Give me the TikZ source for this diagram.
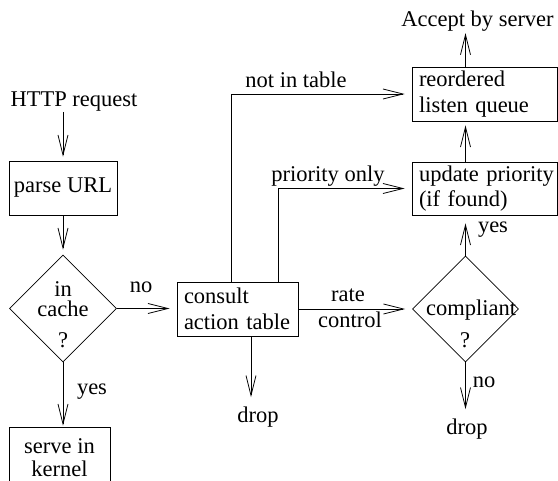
\documentclass[tikz,border=0pt]{standalone}
\usepackage{fontspec}
\setmainfont{Liberation Serif}
\usetikzlibrary{arrows.meta,shapes.geometric,calc}
\newcommand{\fnt}{\fontsize{22.5}{25.5}\selectfont}
\begin{document}
\begin{tikzpicture}[x=1pt,y=-1pt,
  every node/.style={font=\fnt, inner sep=0pt},
  box/.style={draw, rectangle, line width=0.8pt, align=left, inner xsep=7pt, inner ysep=0pt},
  cbox/.style={draw, rectangle, line width=0.8pt, align=center, inner sep=0pt},
  arr/.style={-{Straight Barb[length=20pt,width=10pt,line width=0.8pt]}, line width=0.8pt, shorten >=5pt},
  dia/.style={draw, diamond, line width=0.8pt, inner sep=0pt, aspect=1},
  lbl/.style={anchor=base}]
\clip (0,0) rectangle (558,481);
% boxes
\node[cbox, minimum width=108pt, minimum height=54pt] (parse) at (63,188) {parse URL};
\node[box, text width=107pt, minimum width=121pt, minimum height=54pt] (consult) at (237.5,309) {consult\\action table};
\node[box, text width=131pt, minimum width=145pt, minimum height=53pt] (update) at (484.5,188.5) {\mbox{update priority}\\(if found)};
\node[box, text width=131pt, minimum width=145pt, minimum height=54pt] (reordered) at (484.5,94) {reordered\\listen queue};
\node[cbox, font=\fontsize{22.5}{23}\selectfont, minimum width=101pt, minimum height=62pt] (serve) at (59.5,458) {serve in\\kernel};
% diamonds
\node[dia, minimum width=107pt, minimum height=107pt] (cache) at (63,308.5) {};
\node[dia, minimum width=106pt, minimum height=106pt] (comp) at (465.5,309) {};
\node[align=center, font=\fontsize{22.5}{19.5}\selectfont] (tcache) at (63,299) {in\\cache};
\node[lbl] (tq1) at (63,348) {?};
\node[lbl] (tcomp) at (471,316) {compliant};
\node[lbl] (tq2) at (465,348) {?};
% free texts
\node[lbl] (http) at (74,107) {HTTP request};
\node[lbl] (accept) at (477.5,27) {Accept by server};
\node[lbl] (drop1) at (258,423) {drop};
\node[lbl] (drop2) at (467,435) {drop};
% labels
\node[lbl] (lno1) at (141,293) {no};
\node[lbl] (lyes1) at (92,395) {yes};
\node[lbl] (lrate) at (348,302) {rate};
\node[lbl] (lcontrol) at (350,328) {control};
\node[lbl] (lnot) at (296,88) {not in table};
\node[lbl] (lprio) at (328,182) {priority only};
\node[lbl] (lyes2) at (493,233) {yes};
\node[lbl] (lno2) at (484,388) {no};
% coordinates
\coordinate (cd) at ([xshift=13.5pt]consult.south);
\coordinate (ca) at ([xshift=-6.5pt]consult.north);
\coordinate (cb) at ([xshift=40.5pt]consult.north);
% connectors
\draw[arr, shorten >=4pt] (parse.north |- http.south) -- (parse.north);
\draw[arr] (parse.south) -- (cache.north);
\draw[arr, shorten >=7pt] (cache.east) -- (cache.east -| consult.west);
\draw[arr, shorten >=1pt] (cache.south) -- (cache.south |- serve.north);
\draw[arr, shorten >=10pt] (cd) -- (cd |- drop1.north);
\draw[arr, shorten >=7pt] (consult.east) -- (comp.west);
\draw[arr, shorten >=7pt] (ca) |- (reordered.west);
\draw[arr, shorten >=7pt] (cb) |- (update.west);
\draw[arr, shorten >=8pt] (comp.north) -- (comp.north |- update.south);
\draw[arr, shorten >=4pt] (comp.north |- update.north) -- (comp.north |- reordered.south);
\draw[arr, shorten >=1pt] (comp.north |- reordered.north) -- (comp.north |- accept.south);
\draw[arr, shorten >=10pt] (comp.south) -- (comp.south |- drop2.north);
\end{tikzpicture}
\end{document}
